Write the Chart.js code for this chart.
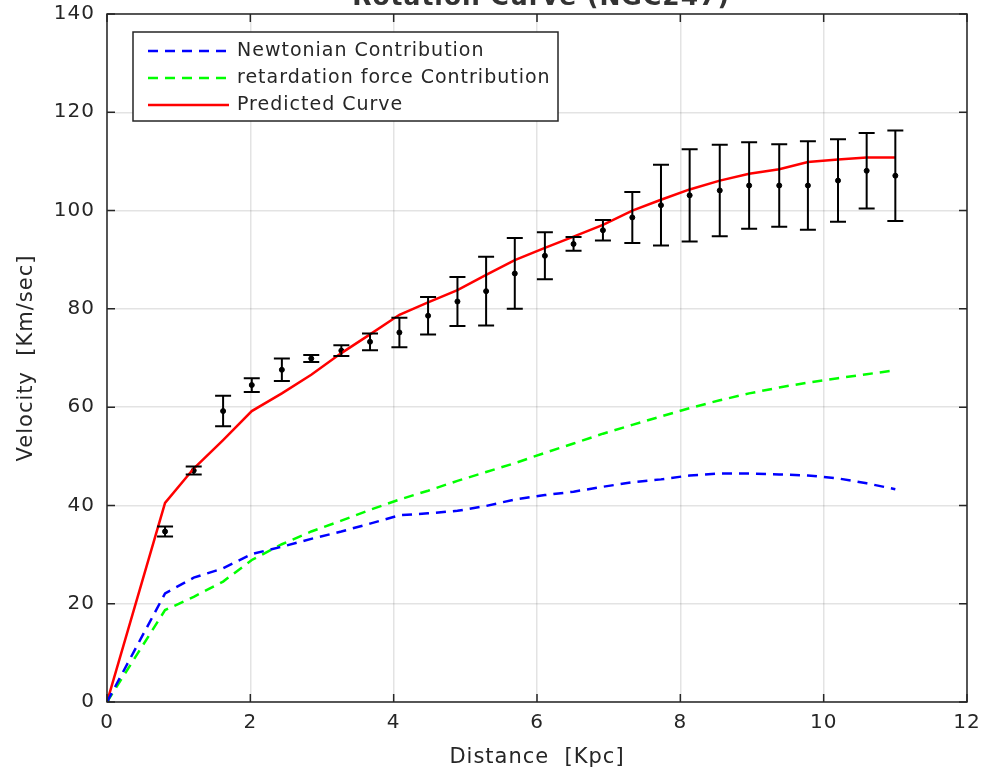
<!DOCTYPE html>
<html>
<head>
<meta charset="utf-8">
<script src="https://cdn.jsdelivr.net/npm/chart.js@4.4.1/dist/chart.umd.min.js"></script>
<style>
  html, body { margin: 0; padding: 0; background: #fff; }
  canvas { display: block; }
</style>
</head>
<body>
<canvas id="rotCurve" width="983" height="772"></canvas>
<script>
// radius in Kpc, velocities in Km/sec
const radius = [0, 0.81, 1.21, 1.62, 2.02, 2.44, 2.85, 3.27, 3.67, 4.08, 4.48, 4.89, 5.29, 5.69,
  6.11, 6.51, 6.92, 7.33, 7.73, 8.13, 8.55, 8.96, 9.38, 9.78, 10.2, 10.6, 11.0];
const vObserved = [0, 34.7, 47.1, 59.2, 64.5, 67.6, 69.9, 71.5, 73.3, 75.2, 78.6, 81.5, 83.6, 87.2,
  90.8, 93.2, 96.0, 98.6, 101.1, 103.1, 104.1, 105.1, 105.1, 105.1, 106.1, 108.1, 107.1];
const vError = [0, 1.0, 0.8, 3.1, 1.4, 2.3, 0.7, 1.1, 1.7, 3.0, 3.8, 5.0, 7.0, 7.2,
  4.8, 1.4, 2.1, 5.2, 8.2, 9.4, 9.3, 8.8, 8.4, 9.0, 8.4, 7.7, 9.2];
const vNewton = [0, 22.1, 25.3, 27.2, 30.1, 31.6, 33.2, 34.7, 36.3, 38.0, 38.4, 38.9, 39.9, 41.2,
  42.1, 42.8, 43.8, 44.7, 45.3, 46.1, 46.5, 46.5, 46.3, 46.1, 45.5, 44.5, 43.3];
const vRetard = [0, 18.7, 21.4, 24.5, 28.9, 32.1, 34.7, 36.9, 39.1, 41.2, 43.0, 45.0, 46.8, 48.6,
  50.7, 52.6, 54.6, 56.4, 58.1, 59.8, 61.4, 62.8, 64.0, 65.0, 65.9, 66.7, 67.5];
const vPredicted = [0, 40.5, 47.5, 53.3, 59.2, 62.8, 66.6, 71.0, 74.8, 78.8, 81.3, 83.8, 86.9, 89.9,
  92.4, 94.7, 97.1, 100.0, 102.2, 104.3, 106.1, 107.5, 108.4, 109.9, 110.4, 110.8, 110.8];
const xTicks = [0, 2, 4, 6, 8, 10, 12];
const yTicks = [0, 20, 40, 60, 80, 100, 120, 140];
const seriesNames = ['Newtonian Contribution', 'retardation force Contribution', 'Predicted Curve'];

const axisColor = '#262626';
const fontFamily = '"DejaVu Sans", Arial, sans-serif';
const pts = ys => radius.map((r, i) => ({ x: r, y: ys[i] }));

// MATLAB style box with inward ticks
const frame = {
  id: 'frame',
  beforeDraw(chart) {
    chart.ctx.letterSpacing = '1px';
  },
  afterDraw(chart) {
    const { ctx, chartArea: a, scales: { x, y } } = chart;
    ctx.save();
    ctx.strokeStyle = axisColor;
    ctx.lineWidth = 1.5;
    ctx.strokeRect(a.left, a.top, a.right - a.left, a.bottom - a.top);
    ctx.beginPath();
    xTicks.forEach(t => {
      const px = x.getPixelForValue(t);
      ctx.moveTo(px, a.bottom); ctx.lineTo(px, a.bottom - 8);
      ctx.moveTo(px, a.top); ctx.lineTo(px, a.top + 8);
    });
    yTicks.forEach(t => {
      const py = y.getPixelForValue(t);
      ctx.moveTo(a.left, py); ctx.lineTo(a.left + 8, py);
      ctx.moveTo(a.right, py); ctx.lineTo(a.right - 8, py);
    });
    ctx.stroke();
    ctx.restore();
  }
};

const errorBars = {
  id: 'errorBars',
  afterDatasetsDraw(chart) {
    const { ctx, scales: { x, y } } = chart;
    ctx.save();
    ctx.strokeStyle = '#000';
    ctx.lineWidth = 2;
    radius.forEach((r, i) => {
      if (!vError[i]) return;
      const px = x.getPixelForValue(r);
      const top = y.getPixelForValue(vObserved[i] + vError[i]);
      const bot = y.getPixelForValue(vObserved[i] - vError[i]);
      ctx.beginPath();
      ctx.moveTo(px, top); ctx.lineTo(px, bot);
      ctx.moveTo(px - 8, top); ctx.lineTo(px + 8, top);
      ctx.moveTo(px - 8, bot); ctx.lineTo(px + 8, bot);
      ctx.stroke();
    });
    ctx.restore();
  }
};

const boxLegend = {
  id: 'boxLegend',
  afterDraw(chart) {
    const { ctx } = chart;
    const x0 = 133, y0 = 32, w = 425, h = 89;
    ctx.save();
    ctx.fillStyle = '#fff';
    ctx.fillRect(x0, y0, w, h);
    ctx.strokeStyle = axisColor;
    ctx.lineWidth = 1.5;
    ctx.strokeRect(x0, y0, w, h);
    ctx.font = '19px ' + fontFamily;
    ctx.textBaseline = 'middle';
    ctx.fillStyle = axisColor;
    for (let i = 0; i < 3; i++) {
      const ds = chart.data.datasets[i];
      const yy = y0 + 19 + i * 27;
      ctx.beginPath();
      ctx.strokeStyle = ds.borderColor;
      ctx.lineWidth = 2.5;
      ctx.setLineDash(ds.borderDash || []);
      ctx.moveTo(148, yy); ctx.lineTo(229, yy);
      ctx.stroke();
      ctx.setLineDash([]);
      ctx.fillText(ds.label, 237, yy);
    }
    ctx.restore();
  }
};

const cutTitle = {
  id: 'cutTitle',
  afterDraw(chart) {
    const { ctx, chartArea: a } = chart;
    ctx.save();
    ctx.font = 'bold 25px ' + fontFamily;
    ctx.fillStyle = '#333';
    ctx.textAlign = 'center';
    ctx.textBaseline = 'alphabetic';
    ctx.fillText('Rotation Curve (NGC247)', (a.left + a.right) / 2 + 4, 5);
    ctx.restore();
  }
};

new Chart(document.getElementById('rotCurve').getContext('2d'), {
  type: 'line',
  data: {
    datasets: [
      { label: seriesNames[0], data: pts(vNewton), borderColor: '#0000ff', borderWidth: 2.5,
        borderDash: [10, 7], pointRadius: 0, tension: 0 },
      { label: seriesNames[1], data: pts(vRetard), borderColor: '#00ff00', borderWidth: 2.5,
        borderDash: [10, 7], pointRadius: 0, tension: 0 },
      { label: seriesNames[2], data: pts(vPredicted), borderColor: '#ff0000', borderWidth: 2.5,
        pointRadius: 0, tension: 0 },
      { label: 'observed', data: pts(vObserved), showLine: false, pointRadius: 2.5,
        pointBackgroundColor: '#000', pointBorderColor: '#000', borderColor: '#000' }
    ]
  },
  options: {
    responsive: false,
    animation: false,
    layout: { padding: { top: 14, right: 16, left: 0, bottom: 0 } },
    plugins: { legend: { display: false }, tooltip: { enabled: false }, title: { display: false } },
    scales: {
      x: {
        type: 'linear', min: xTicks[0], max: xTicks[xTicks.length - 1],
        afterFit: s => { s.height = 70; s.paddingLeft = 0; s.paddingRight = 0; },
        afterBuildTicks: s => { s.ticks = xTicks.map(v => ({ value: v })); },
        grid: { color: 'rgba(38,38,38,0.13)', lineWidth: 1.5, drawTicks: false },
        border: { display: false },
        ticks: { color: axisColor, padding: 9, font: { family: fontFamily, size: 20 } },
        title: { display: true, text: 'Distance  [Kpc]', color: axisColor,
          font: { family: fontFamily, size: 21 }, padding: { top: 0, bottom: 2 } }
      },
      y: {
        min: yTicks[0], max: yTicks[yTicks.length - 1],
        afterFit: s => { s.width = 107; s.paddingTop = 0; s.paddingBottom = 0; },
        afterBuildTicks: s => { s.ticks = yTicks.map(v => ({ value: v })); },
        grid: { color: 'rgba(38,38,38,0.13)', lineWidth: 1.5, drawTicks: false },
        border: { display: false },
        ticks: { color: axisColor, padding: 12, font: { family: fontFamily, size: 20 } },
        title: { display: true, text: 'Velocity  [Km/sec]', color: axisColor,
          font: { family: fontFamily, size: 21 }, padding: { top: 14, bottom: 0 } }
      }
    }
  },
  plugins: [frame, errorBars, boxLegend, cutTitle]
});
</script>
</body>
</html>
